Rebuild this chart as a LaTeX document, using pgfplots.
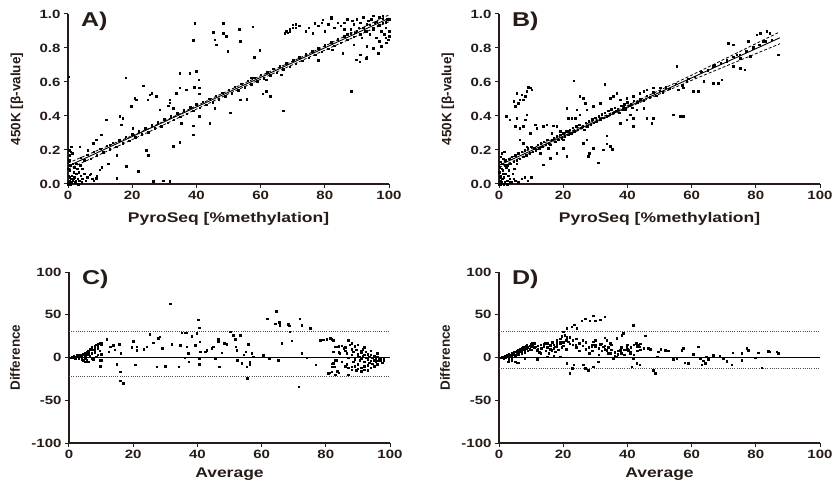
\documentclass[border=0pt]{standalone}
\usepackage{pgfplots}
\pgfplotsset{compat=1.18}
\usepackage{fontspec}
\setmainfont{Liberation Sans}[FakeStretch=1.25]
\newfontfamily\ylabfont{Liberation Sans}
\definecolor{ink}{RGB}{38,27,22}
\definecolor{dotline}{RGB}{80,80,80}

\tikzset{plab/.style={anchor=west, font=\fontsize{20}{20}\selectfont\bfseries, text=ink}}
\pgfplotsset{
  panel/.style={
    scale only axis, width=321pt, clip=false,
    axis lines=left,
    axis line style={-, line width=1.3pt, color=ink},
    tick align=outside, major tick length=4pt,
    tick style={line width=1pt, color=ink},
    minor tick num=0,
    ticklabel style={font=\fontsize{12}{12}\selectfont\bfseries, text=ink},
    every axis x label/.style={at={(rel axis cs:0.5,0)}, anchor=center, font=\fontsize{14}{14}\selectfont\bfseries, text=ink},
    every axis y label/.style={at={(rel axis cs:0,0.5)}, anchor=center, rotate=90, font=\ylabfont\fontsize{13.5}{14}\selectfont\bfseries, text=ink},
    xmin=0, xmax=100, xtick={0,20,40,60,80,100},
    xticklabels={0,20,40,60,80,100},
  },
  scat/.style={only marks, mark=square*, mark size=0.75pt, black},
  fit/.style={no marks, black, line width=0.9pt},
  band/.style={no marks, black, line width=0.8pt, dash pattern=on 3pt off 2pt},
  lim/.style={no marks, dotline, line width=0.7pt, dash pattern=on 0.8pt off 1.4pt},
  zero/.style={no marks, black, line width=0.8pt},
}

\begin{document}
\begin{tikzpicture}[x=1pt,y=1pt]
\useasboundingbox (0,0) rectangle (835,485);

% ---------------- A ----------------
\begin{axis}[panel, at={(68pt,301pt)}, anchor=south west, height=170pt,
  ymin=0, ymax=1, ytick={0,0.2,0.4,0.6,0.8,1.0},
  yticklabels={0.0,0.2,0.4,0.6,0.8,1.0},
  xlabel={PyroSeq [\%methylation]}, x label style={yshift=-35pt},
  ylabel={450K [β-value]}, y label style={yshift=51pt}]
\addplot[scat] coordinates {
(0,0.0)(0.3,0.01)(0.5,0.02)(0.8,0.0)(1,0.03)(1.2,0.05)(1.5,0.02)(2,0.04)(2.2,0.01)(2.5,0.06)(3,0.03)(3.3,0.07)(3.5,0.02)(4,0.05)(4.5,0.03)(5,0.06)(5.5,0.02)(6,0.04)(0.2,0.05)(0.5,0.08)(0.7,0.11)(0.3,0.14)(0.5,0.17)(0.8,0.19)(1,0.22)(1.3,0.18)(1.5,0.12)(2,0.10)(2.5,0.12)(0.2,0.63)(0.4,0.2)(1.8,0.07)(2.8,0.09)(3.8,0.11)(4.5,0.09)(7,0.06)(7.5,0.03)(8,0.02)(9,0.05)(0.1,0.09)(0.6,0.04)(1.1,0.01)(1.7,0.03)(2.4,0.02)(3.2,0.0)(4.2,0.01)
(4,0.155)(5,0.140)(6,0.172)(7,0.150)(8,0.190)(9,0.170)(10,0.207)(11,0.188)(12,0.224)(13,0.205)(14,0.242)(15,0.218)(16,0.259)(17,0.240)(18,0.277)(19,0.255)(20,0.294)(21,0.275)(22,0.311)(23,0.292)(24,0.329)(25,0.305)(26,0.346)(27,0.327)(28,0.364)(29,0.340)(30,0.381)(31,0.362)(32,0.398)(33,0.378)(34,0.416)(35,0.395)(36,0.433)(37,0.413)(38,0.451)(39,0.430)(40,0.468)(41,0.448)(42,0.485)(43,0.465)(44,0.503)(45,0.482)(46,0.520)(47,0.500)(48,0.538)(49,0.517)(50,0.555)(51,0.535)(52,0.572)(53,0.552)(54,0.590)(55,0.570)(56,0.607)(57,0.587)(58,0.625)(59,0.604)(60,0.642)(61,0.622)(62,0.659)(63,0.639)(64,0.677)(65,0.656)(66,0.694)(67,0.674)(68,0.712)(69,0.691)(70,0.729)(71,0.708)(72,0.746)(73,0.726)(74,0.764)(75,0.743)(76,0.781)(77,0.761)(78,0.799)(79,0.778)(80,0.816)(81,0.796)(82,0.833)(83,0.813)(84,0.851)(85,0.830)(86,0.868)(87,0.848)(88,0.886)(89,0.865)(90,0.903)(91,0.882)(92,0.920)(93,0.900)(94,0.938)(95,0.917)(96,0.955)(97,0.934)(98,0.973)(99,0.952)
(85,0.93)(86,0.95)(87,0.97)(88,0.91)(88.5,0.96)(89,0.94)(89.5,0.89)(90,0.97)(90.5,0.92)(91,0.95)(91.5,0.86)(92,0.98)(92.5,0.90)(93,0.94)(93.5,0.96)(94,0.88)(94.5,0.97)(95,0.91)(95.5,0.95)(96,0.86)(96.5,0.93)(97,0.98)(97.5,0.90)(98,0.95)(98.5,0.88)(99,0.92)(99.5,0.97)(99.8,0.85)(100,0.90)(99,0.86)(97,0.84)(95,0.80)(93,0.81)(91,0.76)(90,0.73)(89,0.82)(87,0.88)(86,0.91)(84,0.95)(83,0.92)(82,0.98)(81,0.94)(80,0.90)(79,0.95)(78,0.93)(75,0.92)(74,0.90)(72,0.93)(71,0.94)(70,0.92)(69,0.90)(68.5,0.89)(95,0.99)(98,0.99)(100,0.97)(100,0.87)(97.5,0.81)(93,0.75)
(39.5,0.947)(48.3,0.947)(45.2,0.892)(48.3,0.888)(49.3,0.869)(45.7,0.849)(39.0,0.845)(46.2,0.82)(49.8,0.78)(53.3,0.912)(57.6,0.924)(53.7,0.839)(58,0.747)(59.7,0.786)(67.5,0.888)(68,0.9)(69,0.91)(70,0.937)(71,0.92)(67,0.431)(70.1,0.73)(76.3,0.888)(76.8,0.947)(79.4,0.967)(82,0.976)(77.9,0.727)(88.3,0.545)(90.9,0.72)(89.8,0.73)(92.9,0.74)(96.6,0.77)(99.2,0.83)(82.3,0.79)(85.5,0.77)
(37.9,0.653)(40,0.663)(40.7,0.614)(34.8,0.653)(34.8,0.565)(36.8,0.555)(39.3,0.57)(40.8,0.565)(40.8,0.53)(33.7,0.535)(31.7,0.496)(31.7,0.477)(31.2,0.46)(28.6,0.437)(32.8,0.447)(27.5,0.516)(26,0.535)(25.5,0.525)(24.9,0.496)(23.4,0.578)(21.3,0.496)(20.8,0.506)(19.7,0.457)(18,0.624)(16.1,0.398)(17.1,0.388)(16.6,0.349)(20.2,0.329)(11.9,0.378)(10.4,0.29)(8.8,0.26)(7.8,0.24)(6.2,0.2)(3.6,0.22)(24.4,0.2)(25,0.17)(32.7,0.222)(34.8,0.247)(39,0.29)(39,0.343)(35.3,0.359)(40.8,0.398)(44.1,0.359)(45.7,0.447)(50.6,0.418)(53.7,0.496)(55.6,0.5)(61.8,0.545)(63,0.516)(60.7,0.531)(57.1,0.624)(61.8,0.614)(66.4,0.643)
(26.5,0.016)(29.6,0.02)(31.7,0.016)(15.1,0.035)(18.2,0.104)(21.8,0.075)(9.9,0.084)(8.8,0.035)(6.8,0.055)(13,0.23)(15.1,0.17)(12.5,0.12)(10.5,0.1)
};
\addplot[fit] coordinates {(0,0.105)(100,0.975)};
\addplot[band] coordinates {(0,0.123)(25,0.325)(50,0.550)(75,0.766)(100,0.995)};
\addplot[band] coordinates {(0,0.087)(25,0.305)(50,0.530)(75,0.745)(100,0.955)};
\node[plab] at (rel axis cs:0.03,0.955) {A)};
\end{axis}

% ---------------- B ----------------
\begin{axis}[panel, at={(499pt,301pt)}, anchor=south west, height=170pt,
  ymin=0, ymax=1, ytick={0,0.2,0.4,0.6,0.8,1.0},
  yticklabels={0.0,0.2,0.4,0.6,0.8,1.0},
  xlabel={PyroSeq [\%methylation]}, x label style={yshift=-35pt},
  ylabel={450K [β-value]}, y label style={yshift=51pt}]
\addplot[scat] coordinates {
(0,0.0)(0.3,0.02)(0.5,0.05)(0.7,0.01)(1,0.03)(1.2,0.08)(1.5,0.04)(1.8,0.01)(2,0.06)(2.3,0.1)(2.5,0.02)(2.8,0.05)(3,0.08)(3.3,0.03)(3.6,0.12)(4,0.01)(4.2,0.06)(0.2,0.1)(0.4,0.13)(0.6,0.16)(0.8,0.18)(1,0.12)(1.3,0.15)(1.6,0.19)(0.1,0.07)(0.9,0.09)(1.7,0.11)(2.1,0.14)(5,0.02)(6,0.01)(7,0.03)(8,0.04)(9,0.02)(10,0.04)(0.5,0.0)(1.5,0.0)(2.5,0.0)(3.5,0.01)(4.5,0.03)(0.3,0.04)(1.1,0.06)(2.7,0.11)(3.1,0.15)(4.8,0.09)(5.5,0.12)
(2,0.14)(2.5,0.11)(3,0.15)(3.5,0.12)(4,0.16)(4.5,0.13)(5,0.17)(5.5,0.14)(6,0.18)(6.5,0.15)(7,0.19)(7.5,0.16)(8,0.20)(8.5,0.17)(9,0.21)(9.5,0.18)(10,0.22)(10.5,0.19)(11,0.21)(11.5,0.20)(12,0.23)(12.5,0.21)(13,0.24)(13.5,0.22)(14,0.25)(14.5,0.23)(15,0.26)(15.5,0.24)(16,0.23)(16.5,0.26)(17,0.27)(17.5,0.25)(18,0.28)(18.5,0.26)(19,0.29)(19.5,0.27)(20,0.30)(20.5,0.28)(21,0.31)(21.5,0.29)(22,0.32)(22.5,0.30)(23,0.33)(23.5,0.31)(24,0.34)(24.5,0.32)(25,0.35)(25.5,0.33)(26,0.34)(26.5,0.32)(27,0.36)(27.5,0.34)(28,0.37)(28.5,0.35)(29,0.38)(29.5,0.36)(30,0.39)(30.5,0.37)(31,0.40)(31.5,0.38)(32,0.41)(32.5,0.39)(33,0.42)(33.5,0.40)(34,0.43)(34.5,0.41)(35,0.44)(35.5,0.42)(36,0.45)(36.5,0.43)(37,0.44)(37.5,0.42)(38,0.46)(38.5,0.44)(39,0.47)(39.5,0.45)(40,0.48)(40.5,0.46)(41,0.47)(41.5,0.45)(42,0.49)(43,0.48)(44,0.50)(45,0.49)(46,0.52)(47,0.51)(48,0.54)(49,0.52)(50,0.55)(51,0.54)(52,0.57)(53,0.56)(55,0.59)(57,0.58)(59,0.62)(61,0.63)(63,0.66)(65,0.67)(67,0.70)(69,0.71)(71,0.72)(73,0.75)(75,0.76)(77,0.78)(79,0.80)(81,0.82)(83,0.84)(85,0.85)
(4.5,0.486)(5.5,0.535)(6.5,0.496)(7.1,0.525)(8.1,0.516)(8.6,0.545)(9.7,0.565)(9.1,0.57)(10.2,0.555)(5,0.457)(6,0.476)(7.6,0.496)(2.2,0.398)(3.4,0.378)(5.5,0.388)(5,0.339)(6.5,0.329)(7.6,0.339)(8.6,0.408)(8.1,0.378)(9.7,0.3)(6.5,0.26)(7.6,0.24)(8.6,0.22)
(23.2,0.608)(33,0.588)(25.2,0.516)(26.3,0.506)(21.1,0.447)(24.2,0.437)(25.2,0.408)(26.8,0.476)(21.6,0.388)(22.6,0.388)(23.7,0.388)(27.3,0.437)(29.4,0.457)(31.5,0.476)(34.6,0.506)(35.6,0.516)(36.7,0.535)(37.7,0.496)(38.8,0.457)(39.3,0.437)(33.5,0.284)(33.5,0.237)(34.6,0.222)(35.3,0.206)(32.5,0.202)(30.9,0.124)(28.1,0.182)(27.8,0.163)(29.4,0.212)(26.3,0.241)(27.3,0.261)(21.1,0.163)(20,0.212)(18,0.182)(15.9,0.153)(15.4,0.212)(13.8,0.114)(12.8,0.182)(11.7,0.329)(11.2,0.349)(13.8,0.339)(14.8,0.349)(16.9,0.343)(18,0.339)(16.4,0.3)(19,0.31)(20,0.261)(21.6,0.31)
(41.8,0.388)(41.8,0.339)(37.7,0.359)(39.8,0.378)(40.8,0.408)(46,0.388)(47.6,0.359)(48.1,0.388)(42.9,0.437)(45,0.447)(39.8,0.506)(41.8,0.516)(43.9,0.535)(45,0.545)(46,0.555)(48.1,0.565)(50.2,0.565)(54.3,0.408)(56.4,0.398)(57.4,0.398)(55.3,0.692)(55.8,0.555)(57.4,0.565)(58.5,0.604)(60.5,0.545)(62.1,0.545)(63.7,0.604)(66.8,0.594)(68.3,0.594)(69.4,0.614)(66.8,0.692)(70.9,0.731)(73,0.692)(75.1,0.682)(76.6,0.673)(71.4,0.829)(73,0.82)(77.7,0.839)(80.3,0.878)(81.3,0.888)(83.4,0.898)(84.4,0.888)(82.3,0.839)(87,0.76)(78.2,0.751)(79.2,0.806)(75.1,0.741)(74.1,0.76)
};
\addplot[fit] coordinates {(0,0.11)(87.5,0.86)};
\addplot[band] coordinates {(0,0.124)(20,0.290)(40,0.462)(60,0.640)(87.5,0.895)};
\addplot[band] coordinates {(0,0.096)(20,0.274)(40,0.448)(60,0.610)(87.5,0.825)};
\node[plab] at (rel axis cs:0.03,0.955) {B)};
\end{axis}

% ---------------- C ----------------
\begin{axis}[panel, at={(69pt,42pt)}, anchor=south west, height=171pt,
  ymin=-100, ymax=100, ytick={-100,-50,0,50,100},
  yticklabels={-100,-50,0,50,100},
  xlabel={Average}, x label style={yshift=-31pt},
  ylabel={Difference}, y label style={yshift=54pt}]
\addplot[scat] coordinates {
(0.5,0)(1,1)(1.5,2)(2,1)(2.5,3)(3,2)(3,-1)(3.5,3)(4,1)(4,-2)(4.5,4)(5,5)(5,-1)(5.5,7)(5.5,-4)(6,3)(6,8)(6.5,10)(7,5)(7,12)(7.5,9)(7.5,-2)(8,14)(8,6)(8.5,15)(8.5,1)(9,16)(9,11)(9.5,17)(9.5,8)(9.7,-10)(10,17)(10,4)(10,-3)(6,-5)(4.5,-3)(2,-1)(1,0)(3.5,1)(8,10)(9,3)(7,-1)(6.5,2)(5,2)(1.5,0)(2.5,1)(3,0)(4,3)(6,6)(7,9)(8,12)(9,14)(10,15)
(31.5,63.1)(64.5,54.4)(61.7,45.6)(71.8,45.6)(40.3,44.5)(40.6,35.1)(64.3,39.8)(65.7,37.9)(65.5,41)(68.3,39)(68.6,37)(72.5,37.9)(75.1,34)(68.8,30)(66.2,16.5)(69.4,19.6)(72.5,4.9)(74.1,0)(62.4,-1)(65.2,-2.9)(60.5,2.9)(71.6,-34)
(50.2,30)(51.2,26.2)(35.1,29)(36.1,29)(36.7,29)(38.2,25)(39.8,28.2)(40.7,18.4)(39.3,14.6)(36.7,12.6)(37.2,5)(36.1,0)(37.3,-4.9)(34.6,14.6)(32,15.7)(34.1,-10.7)(29.9,-9.9)(27.3,-10.7)(26.3,17.3)(27.8,22.3)(28.3,24.3)(25.2,27)(24.2,12.6)(29,10.7)(23.2,9.9)(21.1,8.7)(21.1,12.6)(20,19.2)(20.6,-8.7)(19.5,11.8)(16.1,4.9)(15.6,15.3)(14.8,-8)(15.9,-16.5)(15.9,-27)(16.9,-30)(11.7,21.6)(12.8,12.6)(13.8,14.6)(14.3,9)(12.3,7)(9.7,-10.7)(9.7,-2.9)(5.5,-2.9)(5,-4.9)
(42.9,8.7)(42.4,7)(44.4,10.7)(44.9,12.6)(46.5,21.2)(46.5,18.5)(47.6,5.6)(46.8,-10.7)(45.5,-1)(49.1,15.3)(48.3,16.5)(52.2,8.7)(52,12.6)(51.7,21.2)(52.4,-2.9)(53.3,26.2)(53.8,-6.8)(54.5,3)(55,7)(55.3,-10.7)(55.5,-24.3)(56.3,-8)(56.3,-5.5)(55.9,15.7)(56.9,4.9)(57.4,1)(40.5,-8)(40.6,-1)(40.8,7)
(76.8,-8.7)(78.2,20.4)(79.2,21)(80.3,21.6)(81.3,22.3)(81.8,21.6)(82.3,20.4)(80.8,-18.4)(81.8,-16.5)(82.3,-6.8)(82.8,-10.7)(83.4,-16.5)(82.9,12.6)(83.9,12.6)(83.4,-2.9)(82.3,7)(84.4,4.9)
(85,14)(85.5,11)(86,8)(86,-10)(86.5,5)(87,20)(87,-12)(87,0)(87.5,15)(88,-11)(88,3)(88,10)(88.5,7)(88.5,-5)(89,-2)(89,13)(89.5,9)(89.5,-15)(90,4)(90,-8)(90,15)(90.5,1)(90.5,-3)(91,6)(91,-12)(91,-1)(91.5,10)(91.5,2)(92,-5)(92,3)(92,-14)(92.5,0)(92.5,7)(93,-2)(93,-9)(93,4)(93.5,1)(93.5,-6)(94,3)(94,-4)(94,-12)(94.5,0)(94.5,-7)(95,2)(95,-3)(95,-10)(95.5,-1)(95.5,-5)(96,1)(96,-4)(96,-8)(96.5,-2)(97,0)(97,-3)(97.5,-6)(98,-2)(98,-4)(85,-5)(84,13)(84,-18)(83,-20)(83.5,-16)(82,-11)(81,-18)(82,-7)(83,-3)(84,6)(86.5,-8)(88,-14)(89,-10)(90,-13)(91,-16)(93,-15)(92,-10)(89,0)(90,2)(91,8)(92,12)(94,8)(96,5)(88,17)(87,-20)(86,12)
};
\addplot[zero] coordinates {(0,0.5)(100,0.5)};
\addplot[lim] coordinates {(0,30.5)(100,30.5)};
\addplot[lim] coordinates {(0,-21.5)(100,-21.5)};
\node[plab] at (rel axis cs:0.03,0.955) {C)};
\end{axis}

% ---------------- D ----------------
\begin{axis}[panel, at={(499pt,42pt)}, anchor=south west, height=171pt,
  ymin=-100, ymax=100, ytick={-100,-50,0,50,100},
  yticklabels={-100,-50,0,50,100},
  xlabel={Average}, x label style={yshift=-31pt},
  ylabel={Difference}, y label style={yshift=54pt}]
\addplot[scat] coordinates {
(0.5,0)(1,1)(1,0)(1.5,1)(1.5,-1)(2,2)(2,0)(2.5,1)(2.5,3)(3,2)(3,0)(3,4)(3.5,3)(3.5,1)(4,5)(4,2)(4,0)(4.5,4)(4.5,6)(5,3)(5,7)(5,1)(5.5,5)(5.5,8)(6,6)(6,9)(6,3)(6.5,7)(6.5,10)(7,8)(7,11)(7,5)(7.5,9)(7.5,12)(8,10)(8,6)(8.5,11)(8.5,13)(9,12)(9,8)(9.5,14)(9.5,10)(10,13)(10,16)(10,9)(10.5,15)(11,12)(11,17)(12,14)(12,10)(12.5,6)(13,15)(13,11)(14,13)(14,16)(14.5,8)(15,12)(15,17)(15.5,5)(16,14)(16,10)(16.5,18)(17,11)(17,15)(17.5,7)(18,13)(18,20)(18.5,9)(19,16)(19,22)(19.5,12)(20,18)(20,14)(20.5,26)(21,20)(21,10)(22,16)(22,24)(23,15)(23,20)(24,12)(24,22)(25,17)(25,8)(26,14)(26,20)(27,10)(27,18)(28,12)(28,5)(29,15)(29,8)(30,13)(30,20)(31,11)(31,3)(32,16)(32,8)(33,14)(33,10)(34,12)(34,5)(35,9)(35,15)(36,6)(36,2)(37,8)(37,4)(38,5)(38,12)(39,3)(39,9)(40,10)(40,15)(41,7)(41,12)(42,15)(42,3)(43,13)(43,8)(44,16)(44,9)(45,11)(4,-3)(6,-6)(5,-5)(3,-2)(8,-1)(12,-2)(15,1)(17,2)(13,5)
(25.8,42.9)(26.8,45.6)(28.3,42.9)(29.4,48.7)(29.9,42.9)(31.5,44.5)(33,47.6)(24.2,34)(23.5,38.3)(22.6,35.9)(21.1,34)(20,30)(19.5,25)(21.1,24)(21.6,18.4)(23.9,14.6)(24.9,16.5)(19,18.4)(18,16.5)(17.4,12.6)(16.4,8.7)(15.9,14.6)(14.8,12.6)(14.3,16.5)(13.3,10.7)(11.7,8.7)(11.2,12.6)(10.2,16.5)(8.6,14.6)(7.6,10.7)(2.9,-4.9)(5.5,-6)(11.7,-2)(19,1)(21.1,-6.8)(23.2,-8.7)(22.1,-18.4)(22.8,-12.6)(26.3,-8.7)(26.8,-12.6)(27.8,-14.6)(29.4,-10.7)(30.9,-4.9)(28.3,4.9)(28.8,12.6)(29.4,18.4)(29.9,14.6)(31.5,15.3)(32.5,12.6)(33,23.3)(33.5,20.4)(34.6,16.5)(33.5,8.7)(34.6,4.9)(35.6,-1)(36.7,0.9)(37.7,8.7)(38.2,26.2)(38.7,28.2)(36.7,22.3)(39.8,12.6)(40.3,8.7)(40.8,4.9)(41.8,37.5)(42.7,16.5)(43.4,14.6)(43.9,12.6)(41.8,-1)(42.9,-6.8)(43.9,-8.7)(41.3,-10.7)(45.5,25.4)(46.5,10.7)(47.1,10)(48.1,-14.6)(48.6,-18.4)(49.3,1)(49.6,6.8)(50.4,9.5)(51.7,8.7)(52.7,8)(54.3,-2)(55.3,-1)(56.9,8.7)(57.4,10.7)(57.9,-6)(59,-6.8)(60.5,4.1)(62.1,12.6)(62.6,-1)(63.1,-8.7)(63.6,-3.8)(64.2,-6.8)(64.5,1)(65.2,-2)(66.8,2.9)(68.8,1.7)(69.8,-1)(70.9,-4.1)(72.5,-8.7)(72.8,5.6)(75.6,4.9)(75.6,-2.9)(77.2,10.7)(77.7,8.7)(79.8,0)(80.8,5.6)(81.8,-11.8)(83.9,7.6)(84.4,7)(86.5,6.8)(87,4.9)
};
\addplot[zero] coordinates {(0,0.5)(100,0.5)};
\addplot[lim] coordinates {(0,30.5)(100,30.5)};
\addplot[lim] coordinates {(0,-13)(100,-13)};
\node[plab] at (rel axis cs:0.03,0.955) {D)};
\end{axis}
\end{tikzpicture}
\end{document}
